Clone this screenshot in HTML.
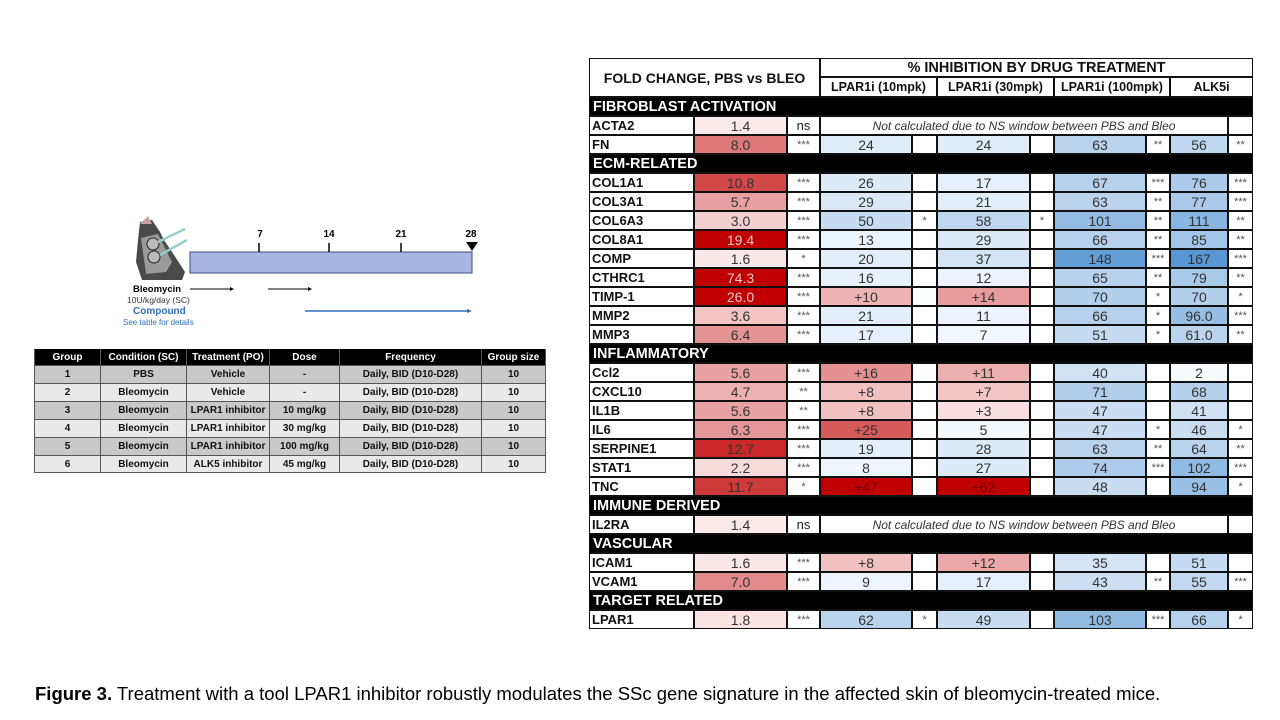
<!DOCTYPE html>
<html><head><meta charset="utf-8">
<style>
body{margin:0;background:#fff;width:1280px;height:720px;position:relative;overflow:hidden;font-family:"Liberation Sans",sans-serif;}
.a{position:absolute;box-sizing:border-box;}
.c{position:absolute;box-sizing:border-box;display:flex;align-items:center;justify-content:center;white-space:nowrap;color:#333;font-size:14px;}
</style></head><body>

<div>
<svg class="a" style="left:0;top:0" width="560" height="340">
  <g>
    <path d="M140,222 L152,220 L160,232 L164,240 L176,258 L185,272 L182,280 L142,280 L136,262 L138,240 Z" fill="#4a4a4a"/>
    <path d="M141,238 L158,234 L172,262 L166,272 L146,274 Z" fill="#9a9a9a"/>
    <circle cx="153" cy="244" r="6" fill="#bbb" stroke="#222"/>
    <circle cx="154" cy="257" r="6" fill="#bbb" stroke="#222"/>
    <line x1="158" y1="242" x2="185" y2="229" stroke="#9cc" stroke-width="2.5"/>
    <line x1="160" y1="255" x2="187" y2="240" stroke="#9cc" stroke-width="2.5"/>
    <path d="M140,224 L148,216 L152,224 Z" fill="#c9a0a0"/>
  </g>
  <rect x="190" y="252" width="282" height="21" fill="#a8b7e0" stroke="#3b4a7f" stroke-width="1"/>
  <g stroke="#000" stroke-width="1.5">
    <line x1="259" y1="243" x2="259" y2="252"/><line x1="329" y1="243" x2="329" y2="252"/><line x1="401" y1="243" x2="401" y2="252"/>
  </g>
  <g font-family="Liberation Sans" font-weight="bold" font-size="10" text-anchor="middle">
    <text x="260" y="237">7</text><text x="329" y="237">14</text><text x="401" y="237">21</text><text x="471" y="237">28</text>
  </g>
  <path d="M466,242 L478,242 L472,251 Z" fill="#000"/>
  <text x="133" y="292" font-family="Liberation Sans" font-weight="bold" font-size="9.5">Bleomycin</text>
  <line x1="190" y1="289" x2="230" y2="289" stroke="#000"/><path d="M230,287 L234,289 L230,291Z"/>
  <line x1="268" y1="289" x2="308" y2="289" stroke="#000"/><path d="M308,287 L312,289 L308,291Z"/>
  <text x="127" y="303" font-family="Liberation Sans" font-size="8.5" fill="#333">10U/kg/day (SC)</text>
  <text x="133" y="314" font-family="Liberation Sans" font-weight="bold" font-size="10" fill="#2e6fc0">Compound</text>
  <text x="123" y="325" font-family="Liberation Sans" font-size="8" fill="#2e6fc0">See table for details</text>
  <line x1="305" y1="311" x2="468" y2="311" stroke="#2e6fc0" stroke-width="1.5"/><path d="M467,309 L472,311 L467,313Z" fill="#2e6fc0"/>
</svg>
</div>

<div id="study" class="a" style="left:34px;top:349px;width:511px;height:124px;"></div>

<div id="main" class="a" style="left:589px;top:58px;width:664px;height:571px;background:#111;"></div>

<div class="a" style="left:35px;top:683px;font-size:18.5px;color:#000;white-space:nowrap"><b>Figure 3.</b> Treatment with a tool LPAR1 inhibitor robustly modulates the SSc gene signature in the affected skin of bleomycin-treated mice.</div>

<script>
const studyHeaders=["Group","Condition (SC)","Treatment (PO)","Dose","Frequency","Group size"];
const studyRows=[
["1","PBS","Vehicle","-","Daily, BID (D10-D28)","10"],
["2","Bleomycin","Vehicle","-","Daily, BID (D10-D28)","10"],
["3","Bleomycin","LPAR1 inhibitor","10 mg/kg","Daily, BID (D10-D28)","10"],
["4","Bleomycin","LPAR1 inhibitor","30 mg/kg","Daily, BID (D10-D28)","10"],
["5","Bleomycin","LPAR1 inhibitor","100 mg/kg","Daily, BID (D10-D28)","10"],
["6","Bleomycin","ALK5 inhibitor","45 mg/kg","Daily, BID (D10-D28)","10"]];

const sections=["FIBROBLAST ACTIVATION","ECM-RELATED","INFLAMMATORY","IMMUNE DERIVED","VASCULAR","TARGET RELATED"];
const sectionGenes=[
["ACTA2","FN"],
["COL1A1","COL3A1","COL6A3","COL8A1","COMP","CTHRC1","TIMP-1","MMP2","MMP3"],
["Ccl2","CXCL10","IL1B","IL6","SERPINE1","STAT1","TNC"],
["IL2RA"],
["ICAM1","VCAM1"],
["LPAR1"]];
const foldChange={ACTA2:"1.4",FN:"8.0",COL1A1:"10.8",COL3A1:"5.7",COL6A3:"3.0",COL8A1:"19.4",COMP:"1.6",CTHRC1:"74.3","TIMP-1":"26.0",MMP2:"3.6",MMP3:"6.4",Ccl2:"5.6",CXCL10:"4.7",IL1B:"5.6",IL6:"6.3",SERPINE1:"12.7",STAT1:"2.2",TNC:"11.7",IL2RA:"1.4",ICAM1:"1.6",VCAM1:"7.0",LPAR1:"1.8"};
const foldSig={ACTA2:"ns",FN:"***",COL1A1:"***",COL3A1:"***",COL6A3:"***",COL8A1:"***",COMP:"*",CTHRC1:"***","TIMP-1":"***",MMP2:"***",MMP3:"***",Ccl2:"***",CXCL10:"**",IL1B:"**",IL6:"***",SERPINE1:"***",STAT1:"***",TNC:"*",IL2RA:"ns",ICAM1:"***",VCAM1:"***",LPAR1:"***"};
const lpar10={FN:"24",COL1A1:"26",COL3A1:"29",COL6A3:"50",COL8A1:"13",COMP:"20",CTHRC1:"16","TIMP-1":"+10",MMP2:"21",MMP3:"17",Ccl2:"+16",CXCL10:"+8",IL1B:"+8",IL6:"+25",SERPINE1:"19",STAT1:"8",TNC:"+47",ICAM1:"+8",VCAM1:"9",LPAR1:"62"};
const lpar10Sig={COL6A3:"*",LPAR1:"*"};
const lpar30={FN:"24",COL1A1:"17",COL3A1:"21",COL6A3:"58",COL8A1:"29",COMP:"37",CTHRC1:"12","TIMP-1":"+14",MMP2:"11",MMP3:"7",Ccl2:"+11",CXCL10:"+7",IL1B:"+3",IL6:"5",SERPINE1:"28",STAT1:"27",TNC:"+62",ICAM1:"+12",VCAM1:"17",LPAR1:"49"};
const lpar30Sig={COL6A3:"*"};
const lpar100={FN:"63",COL1A1:"67",COL3A1:"63",COL6A3:"101",COL8A1:"66",COMP:"148",CTHRC1:"65","TIMP-1":"70",MMP2:"66",MMP3:"51",Ccl2:"40",CXCL10:"71",IL1B:"47",IL6:"47",SERPINE1:"63",STAT1:"74",TNC:"48",ICAM1:"35",VCAM1:"43",LPAR1:"103"};
const lpar100Sig={FN:"**",COL1A1:"***",COL3A1:"**",COL6A3:"**",COL8A1:"**",COMP:"***",CTHRC1:"**","TIMP-1":"*",MMP2:"*",MMP3:"*",IL6:"*",SERPINE1:"**",STAT1:"***",VCAM1:"**",LPAR1:"***"};
const alk5={FN:"56",COL1A1:"76",COL3A1:"77",COL6A3:"111",COL8A1:"85",COMP:"167",CTHRC1:"79","TIMP-1":"70",MMP2:"96.0",MMP3:"61.0",Ccl2:"2",CXCL10:"68",IL1B:"41",IL6:"46",SERPINE1:"64",STAT1:"102",TNC:"94",ICAM1:"51",VCAM1:"55",LPAR1:"66"};
const alk5Sig={FN:"**",COL1A1:"***",COL3A1:"***",COL6A3:"**",COL8A1:"**",COMP:"***",CTHRC1:"**","TIMP-1":"*",MMP2:"***",MMP3:"**",IL6:"*",SERPINE1:"**",STAT1:"***",TNC:"*",VCAM1:"***",LPAR1:"*"};

function mix(a,b,t){t=Math.max(0,Math.min(1,t));return 'rgb('+a.map((v,i)=>Math.round(v+(b[i]-v)*t)).join(',')+')';}
function foldColor(v){return mix([253,241,241],[192,0,0],(v-1)/14);}
function inhColor(s){
  if(s.startsWith('+')) return mix([253,240,240],[192,0,0],parseFloat(s)/40);
  return mix([248,251,254],[88,150,212],parseFloat(s)/160);
}

(function(){
  const host=document.getElementById('study');
  const cols=[0,66,152,235,305,447,511];
  const rowY=[0,17,35,53,71,89,107,124];
  function cell(x0,x1,y0,y1,txt,bg,col,name){
    const d=document.createElement('div');d.className='c';
    d.style.cssText=`left:${x0}px;top:${y0}px;width:${x1-x0}px;height:${y1-y0}px;background:${bg};color:${col};font-weight:bold;font-size:10px;border-right:1px solid #555;border-bottom:1px solid #555;`;
    d.textContent=txt;
    
    
    host.appendChild(d);
  }
  studyHeaders.forEach((h,i)=>cell(cols[i],cols[i+1],rowY[0],rowY[1],h,'#000','#fff','study-header-cell'));
  studyRows.forEach((r,ri)=>r.forEach((t,i)=>cell(cols[i],cols[i+1],rowY[ri+1],rowY[ri+2],t,ri%2?'#e9e9e9':'#c9c9c9','#111','study-cell')));
  host.style.borderLeft='1px solid #555';
})();

(function(){
  const host=document.getElementById('main');
  const X=[0,105,198,231,323,348,441,465,557,581,639,664];
  const top=39, rh=(571-top)/28;
  function cell(x0,x1,y0,y1,txt,opts,name){
    const d=document.createElement('div');d.className='c';
    d.style.left=(x0+1)+'px';d.style.top=(y0+1)+'px';
    d.style.width=(x1-x0-2)+'px';d.style.height=(y1-y0-2)+'px';
    d.style.background=opts.bg||'#fff';
    if(opts.css) d.style.cssText+=opts.css;
    d.textContent=txt;
    
    
    host.appendChild(d);return d;
  }
  cell(0,X[3],0,top,"FOLD CHANGE, PBS vs BLEO",{css:'font-weight:bold;font-size:14px;color:#111;'},'fold-change-header');
  cell(X[3],664,0,19,"% INHIBITION BY DRUG TREATMENT",{css:'font-weight:bold;font-size:14.5px;color:#111;'},'inhibition-header');
  const subs=["LPAR1i (10mpk)","LPAR1i (30mpk)","LPAR1i (100mpk)","ALK5i"];
  [[3,5],[5,7],[7,9],[9,11]].forEach((p,i)=>cell(X[p[0]],X[p[1]],19,top,subs[i],{css:'font-weight:bold;font-size:12.5px;color:#111;'},'treatment-subheader'));
  let r=0;
  sections.forEach((sec,si)=>{
    const y=top+r*rh;
    cell(0,664,y,y+rh,sec,{bg:'#000',css:'justify-content:flex-start;padding-left:3px;color:#fff;font-weight:bold;font-size:14.5px;'},'section-header');
    r++;
    sectionGenes[si].forEach(g=>{
      const y0=top+r*rh,y1=y0+rh;
      cell(X[0],X[1],y0,y1,g,{css:'justify-content:flex-start;padding-left:2px;font-weight:bold;font-size:13px;color:#111;'},'gene-name');
      const fv=parseFloat(foldChange[g]);
      cell(X[1],X[2],y0,y1,foldChange[g],{bg:foldColor(fv),css:'color:'+((fv-1)/14>0.85?'#e6c8c8':'#333')+';'},'fold-change-value');
      cell(X[2],X[3],y0,y1,foldSig[g],{css:'font-size:'+(foldSig[g]=='ns'?'13px':'11px')+';color:'+(foldSig[g]=='ns'?'#222':'#555')+';'},'fold-significance');
      if(!(g in lpar10)){
        cell(X[3],X[10],y0,y1,"Not calculated due to NS window  between  PBS and Bleo",{css:'font-style:italic;font-size:12px;color:#333;'},'not-calculated-note');
        cell(X[10],X[11],y0,y1,"",{},'significance');
      } else {
        const sets=[[lpar10,lpar10Sig],[lpar30,lpar30Sig],[lpar100,lpar100Sig],[alk5,alk5Sig]];
        sets.forEach((st,k)=>{
          const v=st[0][g];
          const dark=v.startsWith('+')&&parseFloat(v)>38;
          cell(X[3+2*k],X[4+2*k],y0,y1,v,{bg:inhColor(v),css:'color:'+(dark?'#6a0000':'#333')+';'},'inhibition-value');
          cell(X[4+2*k],X[5+2*k],y0,y1,st[1][g]||"",{css:'font-size:11px;color:#555;'},'inhibition-significance');
        });
      }
      r++;
    });
  });
})();
</script>
</body></html>
